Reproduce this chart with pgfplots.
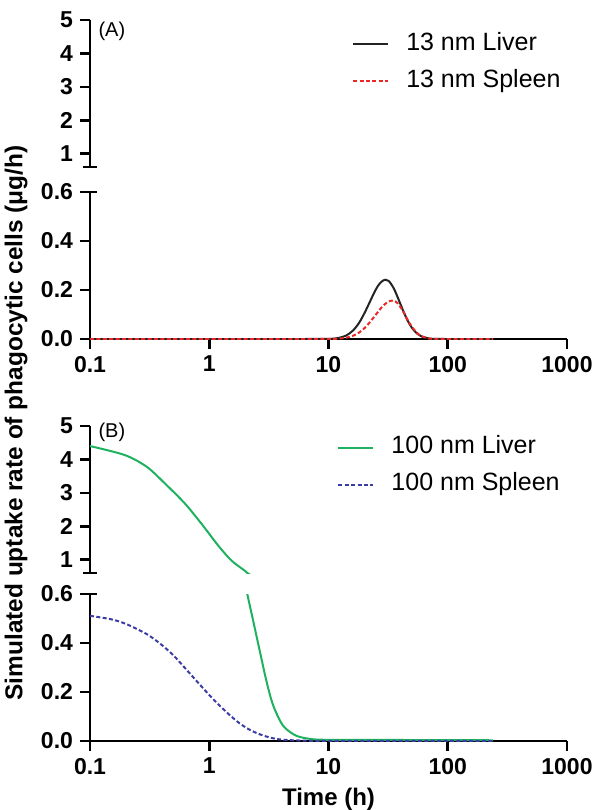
\documentclass[border=0pt]{standalone}
\usepackage{fontspec}
\setmainfont{Liberation Sans}
\usepackage{pgfplots}
\pgfplotsset{compat=1.18}
\definecolor{cgreen}{RGB}{30,178,95}
\definecolor{cblue}{RGB}{60,60,165}
\definecolor{cred}{RGB}{235,40,40}
\definecolor{cblack}{RGB}{35,35,35}
\begin{document}
\begin{tikzpicture}
\path[use as bounding box] (0pt,0pt) rectangle (297pt,-405pt);

% ---------- Panel A upper ----------
\begin{axis}[at={(45pt,-83.5pt)}, anchor=south west,
  scale only axis, width=238.5pt, height=73.5pt, clip mode=individual,
  xmode=log, xmin=0.1, xmax=1000,
  axis x line=none, axis y line=left,
  axis line style={line width=1.3pt, -},
  tick style={line width=1.3pt, black},
  major tick length=5pt, tick align=outside,
  yticklabel style={font=\fontsize{11.5}{13}\selectfont\bfseries},
  ymin=0.6, ymax=5, ytick={1,2,3,4,5}, yticklabels={1,2,3,4,5},
  extra y ticks={0.6}, extra y tick labels={},
  extra y tick style={tick align=center, major tick length=7pt},
  legend cell align=left,
  legend image code/.code={\draw[#1] (0pt,0pt) -- (17.5pt,0pt);},
  legend style={draw=none, fill=none, inner sep=0pt,
    font=\fontsize{12.5}{14}\selectfont,
    nodes={inner xsep=0pt, inner ysep=0pt, text height=9pt, text depth=3pt},
    row sep=6.5pt, column sep=8.5pt,
    at={(0.549,0.918)}, anchor=north west}]
\addlegendimage{cblack, line width=1pt}
\addlegendentry{13 nm Liver}
\addlegendimage{cred, line width=1pt, dash pattern=on 2pt off 1.2pt}
\addlegendentry{13 nm Spleen}
\node[anchor=west, inner sep=0pt, font=\fontsize{10}{12}\selectfont] at (rel axis cs:0.017,0.925) {(A)};
\end{axis}

% ---------- Panel A lower ----------
\begin{axis}[at={(45pt,-169.5pt)}, anchor=south west,
  scale only axis, width=238.5pt, height=73.5pt,
  xmode=log, xmin=0.1, xmax=1000,
  axis x line=bottom, axis y line=left,
  axis line style={line width=1.3pt, -},
  tick style={line width=1.3pt, black},
  major tick length=5pt, tick align=outside,
  ticklabel style={font=\fontsize{11.5}{13}\selectfont\bfseries},
  xminorticks=false,
  ymin=0, ymax=0.6, ytick={0,0.2,0.4,0.6}, yticklabels={0.0,0.2,0.4,0.6},
  xtick={0.1,1,10,100,1000}, xticklabels={0.1,1,10,100,1000},
  extra y ticks={0.6}, extra y tick labels={},
  extra y tick style={tick align=center, major tick length=7pt}]
\addplot[cblack, line width=1pt, smooth, tension=0.5] coordinates {
(0.1,0) (5,0) (10,0.0006) (12,0.004) (14,0.0136) (16,0.034) (18,0.065) (20,0.105)
(22,0.147) (24,0.186) (26,0.217) (28,0.235) (30,0.242) (32,0.237) (35,0.210)
(38,0.171) (42,0.119) (46,0.076) (50,0.046) (55,0.023) (60,0.011) (70,0.002)
(80,0.0005) (100,0) (240,0)};
\addplot[cred, line width=1pt, dash pattern=on 2pt off 1.2pt, smooth, tension=0.5] coordinates {
(0.1,0) (5,0) (10,0.0002) (12,0.0014) (14,0.005) (16,0.013) (18,0.026) (20,0.044)
(22,0.066) (25,0.100) (28,0.130) (30,0.144) (32,0.153) (35,0.157) (38,0.146)
(42,0.115) (46,0.079) (50,0.050) (55,0.026) (60,0.012) (70,0.002) (80,0.0004)
(100,0) (240,0)};
\end{axis}

% ---------- Panel B upper ----------
\begin{axis}[at={(45pt,-286.5pt)}, anchor=south west,
  scale only axis, width=238.5pt, height=73.5pt, clip mode=individual,
  xmode=log, xmin=0.1, xmax=1000,
  axis x line=none, axis y line=left,
  axis line style={line width=1.3pt, -},
  tick style={line width=1.3pt, black},
  major tick length=5pt, tick align=outside,
  yticklabel style={font=\fontsize{11.5}{13}\selectfont\bfseries},
  ymin=0.6, ymax=5, ytick={1,2,3,4,5}, yticklabels={1,2,3,4,5},
  extra y ticks={0.6}, extra y tick labels={},
  extra y tick style={tick align=center, major tick length=7pt},
  legend cell align=left,
  legend image code/.code={\draw[#1] (0pt,0pt) -- (17.5pt,0pt);},
  legend style={draw=none, fill=none, inner sep=0pt,
    font=\fontsize{12.5}{14}\selectfont,
    nodes={inner xsep=0pt, inner ysep=0pt, text height=9pt, text depth=3pt},
    row sep=6.5pt, column sep=8.5pt,
    at={(0.518,0.935)}, anchor=north west}]
\addlegendimage{cgreen, line width=1pt}
\addlegendentry{100 nm Liver}
\addlegendimage{cblue, line width=1pt, dash pattern=on 2pt off 1.2pt}
\addlegendentry{100 nm Spleen}
\addplot[cgreen, line width=1pt, forget plot, smooth, tension=0.5] coordinates {
(0.1,4.40) (0.196,4.13) (0.299,3.78) (0.425,3.28) (0.625,2.68) (0.863,2.07)
(1.19,1.42) (1.54,0.97) (2.02,0.65) (2.08,0.603) (2.34,0.489)};
\node[anchor=west, inner sep=0pt, font=\fontsize{10}{12}\selectfont] at (rel axis cs:0.017,0.955) {(B)};
\end{axis}

% ---------- Panel B lower ----------
\begin{axis}[at={(45pt,-370.5pt)}, anchor=south west,
  scale only axis, width=238.5pt, height=73.5pt,
  xmode=log, xmin=0.1, xmax=1000,
  axis x line=bottom, axis y line=left,
  axis line style={line width=1.3pt, -},
  tick style={line width=1.3pt, black},
  major tick length=5pt, tick align=outside,
  ticklabel style={font=\fontsize{11.5}{13}\selectfont\bfseries},
  xminorticks=false,
  ymin=0, ymax=0.6, ytick={0,0.2,0.4,0.6}, yticklabels={0.0,0.2,0.4,0.6},
  xtick={0.1,1,10,100,1000}, xticklabels={0.1,1,10,100,1000},
  extra y ticks={0.6}, extra y tick labels={},
  extra y tick style={tick align=center, major tick length=7pt},
  xlabel={Time (h)}, xlabel style={font=\fontsize{12}{14}\selectfont\bfseries}]
\addplot[cgreen, line width=1pt, smooth, tension=0.5] coordinates {
(1.54,0.97) (2.02,0.65) (2.08,0.603) (2.34,0.489) (2.66,0.365) (3.03,0.241)
(3.44,0.145) (4.17,0.062) (5.4,0.021) (7.45,0.007) (10,0.005) (20,0.005)
(50,0.004) (100,0.004) (240,0.003)};
\addplot[cblue, line width=1pt, dash pattern=on 2pt off 1.2pt, smooth, tension=0.5] coordinates {
(0.1,0.511) (0.15,0.497) (0.2,0.478) (0.3,0.436) (0.4,0.392) (0.5,0.350)
(0.6,0.308) (0.8,0.240) (1.0,0.188) (1.2,0.148) (1.5,0.104) (1.8,0.072)
(2.2,0.045) (2.7,0.026) (3.3,0.013) (4,0.006) (5,0.003) (7,0.001) (10,0.0005)
(240,0)};
\end{axis}

\node[rotate=90, font=\fontsize{12.2}{14}\selectfont\bfseries] at (8pt,-211.5pt)
  {Simulated uptake rate of phagocytic cells (μg/h)};
\end{tikzpicture}
\end{document}
